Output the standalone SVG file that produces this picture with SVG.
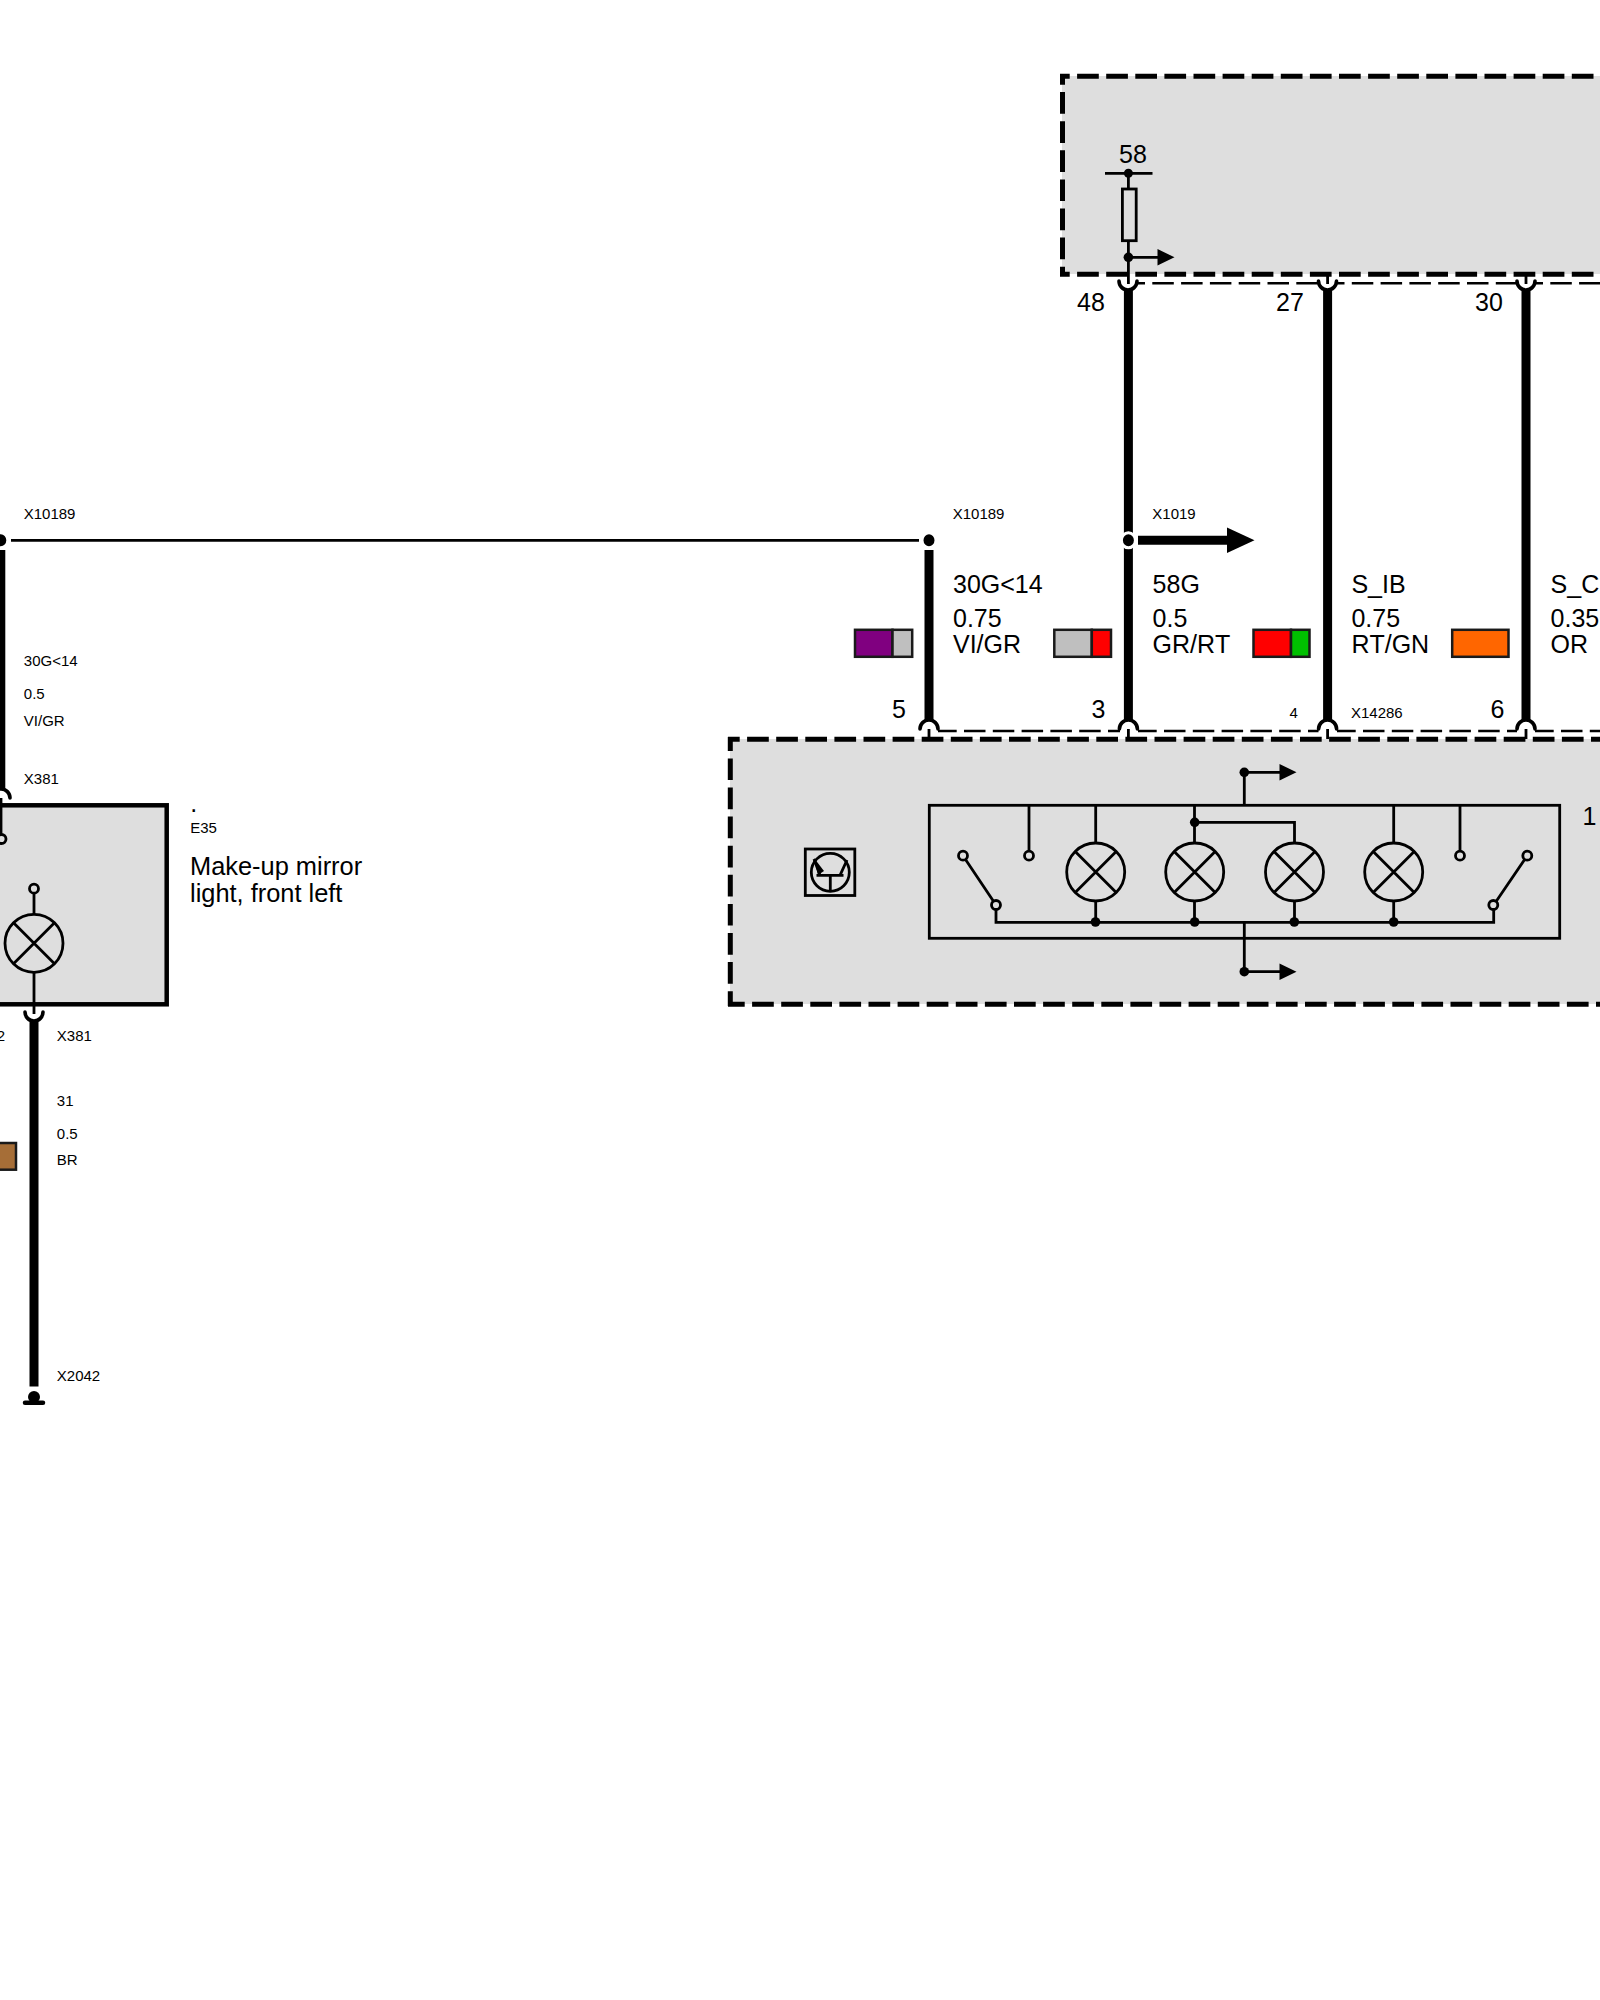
<svg xmlns="http://www.w3.org/2000/svg" width="1600" height="2000" viewBox="0 0 1600 2000">
<style>
text{font-family:"Liberation Sans",Arial,sans-serif;fill:#000;font-kerning:none}
.s{font-size:15px}
.l{font-size:25px}
.t{font-size:25.4px}
.fill{fill:#dedede;stroke:none}
.bd{fill:none;stroke:#000;stroke-width:5;stroke-dasharray:21.7 7.4}
.th{fill:none;stroke:#000;stroke-width:2.5;stroke-dasharray:21.5 7.3}
.w{fill:none;stroke:#000;stroke-width:9}
.n{fill:none;stroke:#000;stroke-width:2.8}
.c{fill:none;stroke:#000;stroke-width:3.6;stroke-linecap:round}
.d{fill:#000;stroke:none}
.o{fill:#dedede;stroke:#000;stroke-width:2.8}
.sw{stroke:#1a1a1a;stroke-width:2.5}
.h{fill:#000;stroke:#fff;stroke-width:3}
</style>
<defs>
<g id="lamp"><circle r="29" class="o"/><path class="n" d="M-20.500,-20.500L20.500,20.500M-20.500,20.500L20.500,-20.500"/></g>
<path id="arr" class="d" d="M0,-8.300L17,0L0,8.300Z"/>
</defs>
<rect width="1600" height="2000" fill="#fff"/>

<g id="control-unit-top">
<rect class="fill" x="1062" y="76" width="560" height="198"/>
<path class="bd" stroke-dashoffset="12" d="M1060,76.300H1620"/>
<path class="bd" stroke-dashoffset="11" d="M1062.500,74V276"/>
<path class="bd" stroke-dashoffset="12" d="M1060,274.300H1620"/>
<path class="n" d="M1105,173.300H1152.500M1128.400,173.300V189M1128.400,240.700V284M1128.400,257.300H1158"/>
<circle class="d" cx="1128.400" cy="173.300" r="4.500"/>
<rect x="1122.400" y="189" width="13.800" height="51.700" fill="#dedede" stroke="#000" stroke-width="2.800"/>
<circle class="d" cx="1128.400" cy="257.300" r="4.800"/>
<use href="#arr" x="1157.500" y="257.300"/>
<text class="l" x="1119" y="162.700">58</text>
</g>

<g id="connectors">
<path class="th" stroke-dashoffset="13.500" d="M1137,283.300H1318"/>
<path class="th" stroke-dashoffset="13.500" d="M1336.500,283.300H1517"/>
<path class="th" stroke-dashoffset="13.500" d="M1535,283.300H1600"/>
<path class="th" stroke-dashoffset="2.800" d="M938,731H1120"/>
<path class="th" stroke-dashoffset="2.800" d="M1138,731H1318.500"/>
<path class="th" stroke-dashoffset="2.800" d="M1337,731H1517"/>
<path class="th" stroke-dashoffset="2.800" d="M1535,731H1600"/>

<path class="n" d="M11,540.300H919"/>
<path class="w" d="M0.800,550V790"/>
<path class="w" d="M929,550V721"/>
<path class="w" d="M1128.400,289V721"/>
<path class="w" d="M1327.600,289V721"/>
<path class="w" d="M1526,289V721"/>
<path class="w" d="M34,1021V1386.500"/>
<path d="M1138,540.300H1228" fill="none" stroke="#000" stroke-width="9"/>
<path class="d" d="M1227,527.600L1254.500,540.300L1227,553Z"/>
<ellipse class="h" cx="0.800" cy="540.300" rx="7" ry="7.500"/>
<ellipse class="h" cx="929" cy="540.300" rx="7" ry="7.500"/>
<ellipse class="h" cx="1128.400" cy="540.300" rx="7" ry="7.500"/>

<path class="c" d="M1119,281A9,9 0 0 0 1137,281M1318.500,281A9,9 0 0 0 1336.500,281M1517,281A9,9 0 0 0 1535,281"/>
<path class="n" d="M1327.600,274V284M1526,274V284"/>
<path class="c" d="M920,729A9,9 0 0 1 938,729M1119.400,729A9,9 0 0 1 1137.400,729M1318.600,729A9,9 0 0 1 1336.600,729M1517,729A9,9 0 0 1 1535,729"/>
<path class="n" d="M929,729V739M1128.400,729V739M1327.600,729V739M1526,729V739"/>
<path class="c" d="M-8,798A9,9 0 0 1 10,798"/>
<path class="c" d="M25,1012A9,9 0 0 0 43,1012"/>
</g>

<g id="control-unit-main">
<rect class="fill" x="730" y="739" width="880" height="265"/>
<path class="bd" stroke-dashoffset="10" d="M728,739.300H1620"/>
<path class="bd" stroke-dashoffset="7.700" d="M730.300,737V1006"/>
<path class="bd" stroke-dashoffset="5" d="M728,1004.300H1620"/>
<g id="transistor">
<rect x="805.300" y="849" width="49.500" height="46.500" class="n"/>
<circle cx="830.300" cy="872.300" r="19" class="n"/>
<path class="n" d="M816.500,875.300H843.500M830.300,875.300V891M820,875.300L814,859M840,875.300L847,860"/>
<path class="d" d="M814,858L824,871L818,875Z"/>
</g>
<g id="lamp-cluster">
<rect x="929.300" y="805.300" width="630.400" height="133" class="n"/>
<path class="n" d="M963,855.700L996,905M996,905V922.300H1493.700V905M1527.300,855.700L1493.700,905"/>
<path class="n" d="M1029,805.300V855.700M1460,805.300V855.700"/>
<path class="n" d="M1095.700,805.300V922M1194.500,805.300V922M1194.500,822.300H1294.500V922M1393.700,805.300V922"/>
<path class="n" d="M1244.300,805.300V772.300H1280M1244.300,922V971.700H1280"/>
<use href="#lamp" x="1095.700" y="872"/>
<use href="#lamp" x="1194.700" y="872"/>
<use href="#lamp" x="1294.500" y="872"/>
<use href="#lamp" x="1393.700" y="872"/>
<circle class="o" cx="963" cy="855.700" r="4.500"/>
<circle class="o" cx="996" cy="905" r="4.500"/>
<circle class="o" cx="1029" cy="855.700" r="4.500"/>
<circle class="o" cx="1460" cy="855.700" r="4.500"/>
<circle class="o" cx="1527.300" cy="855.700" r="4.500"/>
<circle class="o" cx="1493.300" cy="905" r="4.500"/>
<circle class="d" cx="1095.500" cy="922" r="4.800"/>
<circle class="d" cx="1194.700" cy="922" r="4.800"/>
<circle class="d" cx="1294.300" cy="922" r="4.800"/>
<circle class="d" cx="1393.700" cy="922" r="4.800"/>
<circle class="d" cx="1194.700" cy="822.300" r="4.800"/>
<circle class="d" cx="1244.300" cy="772.300" r="4.800"/>
<circle class="d" cx="1244.300" cy="971.700" r="4.800"/>
<use href="#arr" x="1279.500" y="772.300"/>
<use href="#arr" x="1279.500" y="971.700"/>
</g>
<text class="l" x="1582.500" y="825">1</text>
</g>

<g id="E35-lamp">
<rect x="-30" y="805.300" width="196.700" height="199" fill="#dedede" stroke="#000" stroke-width="4.500"/>
<path class="n" d="M1,798V835M34,893V914M34,972V1014"/>
<use href="#lamp" x="34" y="943.300"/>
<circle class="o" cx="1.500" cy="839" r="4.500"/>
<circle class="o" cx="34" cy="888.700" r="4.500"/>
<text class="l" x="190.200" y="811.700">.</text>
<text class="s" x="190.200" y="832.700">E35</text>
<text class="t" x="190" y="875">Make-up mirror</text>
<text class="t" x="190" y="901.700">light, front left</text>
</g>

<g id="ground-X2042">
<circle class="d" cx="34" cy="1397" r="6"/>
<path d="M25,1402.700H43" fill="none" stroke="#000" stroke-width="4.500" stroke-linecap="round"/>
</g>

<g id="swatches">
<rect class="sw" x="855" y="629.800" width="37.500" height="27" fill="#800080"/>
<rect class="sw" x="892.500" y="629.800" width="19.700" height="27" fill="#bfbfbf"/>
<rect class="sw" x="1054.300" y="629.800" width="37.500" height="27" fill="#bfbfbf"/>
<rect class="sw" x="1091.800" y="629.800" width="19.200" height="27" fill="#ff0000"/>
<rect class="sw" x="1253.500" y="629.800" width="37.500" height="27" fill="#ff0000"/>
<rect class="sw" x="1291" y="629.800" width="18.500" height="27" fill="#00c000"/>
<rect class="sw" x="1452.200" y="629.800" width="56.300" height="27" fill="#ff6600"/>
<rect class="sw" x="-30" y="1143" width="46" height="26.700" fill="#a66e37"/>
</g>

<g id="labels">
<text class="l" x="1077" y="310.700">48</text>
<text class="l" x="1276" y="310.700">27</text>
<text class="l" x="1475" y="310.700">30</text>
<text class="s" x="23.700" y="519">X10189</text>
<text class="s" x="952.700" y="519">X10189</text>
<text class="s" x="1152.300" y="519">X1019</text>
<text class="l" x="953" y="592.700">30G&lt;14</text>
<text class="l" x="953" y="626.700">0.75</text>
<text class="l" x="953" y="652.700">VI/GR</text>
<text class="l" x="1152.600" y="592.700">58G</text>
<text class="l" x="1152.600" y="626.700">0.5</text>
<text class="l" x="1152.600" y="652.700">GR/RT</text>
<text class="l" x="1351.400" y="592.700">S_IB</text>
<text class="l" x="1351.400" y="626.700">0.75</text>
<text class="l" x="1351.400" y="652.700">RT/GN</text>
<text class="l" x="1550.600" y="592.700">S_C</text>
<text class="l" x="1550.600" y="626.700">0.35</text>
<text class="l" x="1550.600" y="652.700">OR</text>
<text class="l" x="892" y="718">5</text>
<text class="l" x="1091.600" y="718">3</text>
<text class="s" x="1289.500" y="718">4</text>
<text class="s" x="1351" y="718">X14286</text>
<text class="l" x="1490.500" y="718">6</text>
<text class="s" x="23.800" y="666">30G&lt;14</text>
<text class="s" x="23.800" y="699">0.5</text>
<text class="s" x="23.800" y="726">VI/GR</text>
<text class="s" x="23.800" y="784">X381</text>
<text class="s" x="-3.300" y="1041">2</text>
<text class="s" x="56.800" y="1041">X381</text>
<text class="s" x="56.800" y="1106">31</text>
<text class="s" x="56.800" y="1139">0.5</text>
<text class="s" x="56.800" y="1165">BR</text>
<text class="s" x="56.800" y="1381">X2042</text>
</g>
</svg>
